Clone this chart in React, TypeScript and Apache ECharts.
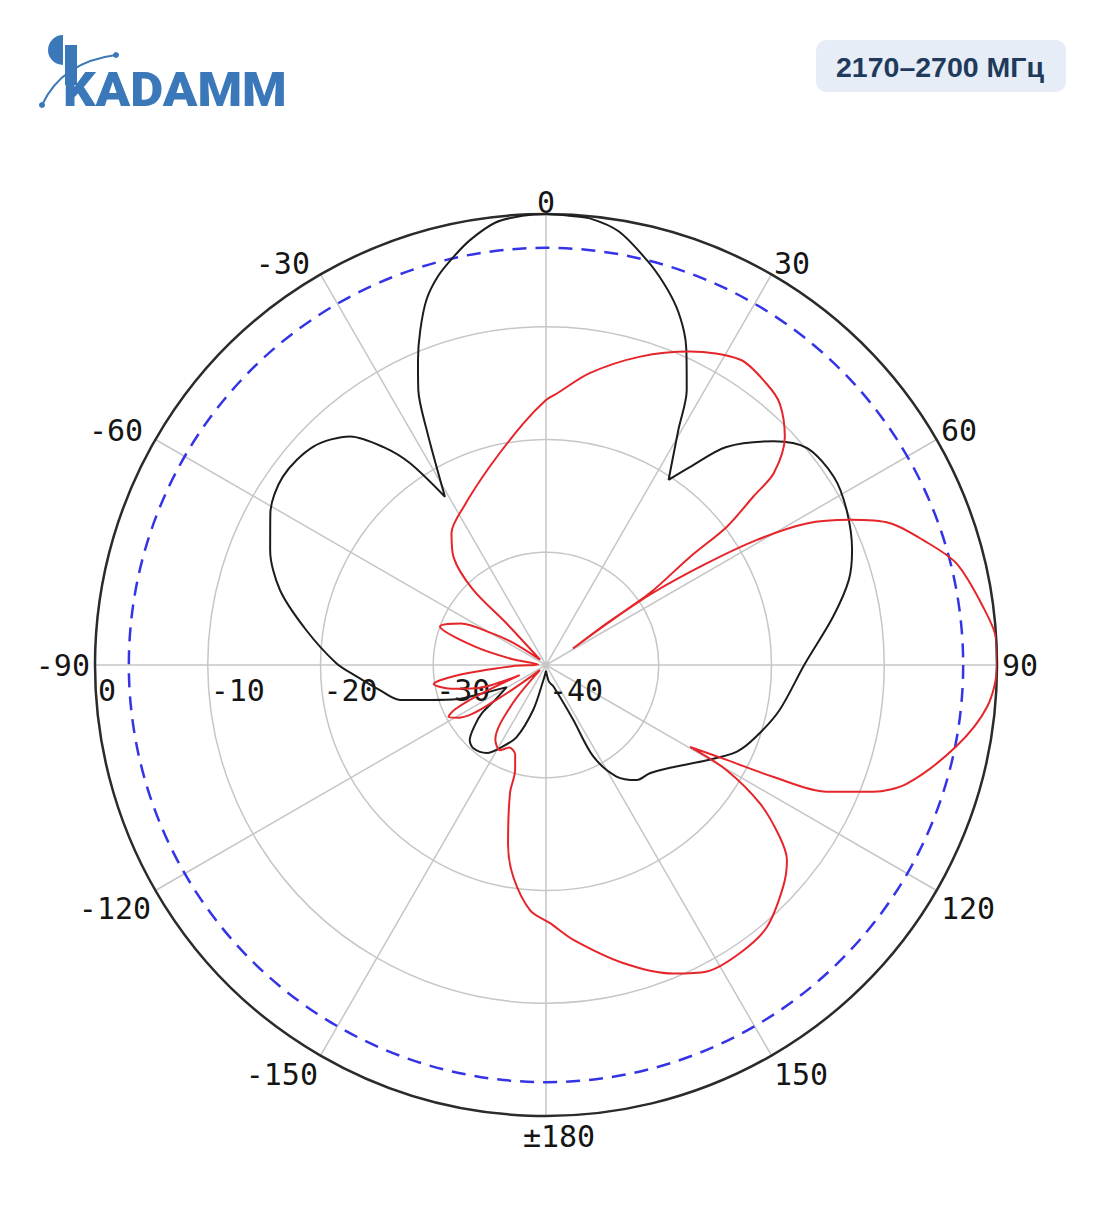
import React, { useEffect, useRef } from 'react';
import * as echarts from 'echarts';

// ---- axes ----
const ANGLE_MIN = -90;
const ANGLE_MAX = 270;
const ANGLE_STEP = 30;
const DB_MIN = -40;
const DB_MAX = 0;
const DB_STEP = 10;
const REF_LEVEL_DB = -3;

const TITLE_BADGE = '2170–2700 МГц';
const LOGO_TEXT = 'KADAMM';

// ---- patterns: [angle (deg), level (dB)] in drawing order ----
const BLACK_PATTERN: [number, number][] = [
  [-180, -39.5], [-170, -38.6], [-164.2, -35.9], [-157.8, -33.1], [-151.1, -31.6],
  [-146.1, -30.6], [-138.9, -30.2], [-134.6, -30.5], [-130.2, -31.75], [-126.9, -32.9],
  [-124.5, -34.5], [-119.4, -36.0], [-113.7, -33.6], [-111.1, -31.6], [-106.8, -29.25],
  [-103.5, -26.7], [-98.6, -25.1], [-93.5, -23.2], [-89.5, -21.4], [-81.7, -18.5],
  [-74.3, -15.5], [-67.4, -13.5], [-61.2, -12.1], [-54.4, -11.3], [-46.8, -11.7],
  [-40.6, -13.3], [-36.7, -15.9], [-34, -18.4], [-31, -22.6], [-26.9, -16.6],
  [-24.9, -13.1], [-22.8, -10.7], [-20.6, -8.3], [-18.1, -5.9], [-15.5, -4.2],
  [-12.8, -2.9], [-10.1, -1.7], [-6.5, -0.5], [-3, -0.1], [0, 0],
  [3, -0.1], [5.6, -0.2], [9.5, -1.0], [14, -3.0], [17.2, -4.6],
  [20, -6.2], [22.5, -8.0], [24, -9.4], [27.1, -12.6], [29.4, -16.1],
  [33.5, -20.3], [36, -18.3], [39.6, -14.9], [45.5, -11.7], [50.3, -9.9],
  [56.8, -9.5], [62.7, -10.0], [69.4, -11.0], [74.3, -12.1], [80.5, -14.2],
  [90, -17.1], [100.9, -18.9], [108.8, -20.3], [114.4, -21.4], [120.6, -23.4],
  [128.6, -25.5], [136.2, -26.7], [141.7, -27.0], [147.7, -28.3], [152.7, -30.9],
  [153.6, -34.6], [161, -38.0], [170, -38.5], [180, -39.5],
];

const RED_PATTERN: [number, number][] = [
  [58.5, -37.2], [55.5, -33.5], [55.3, -28.8], [53.1, -24.0], [52.6, -19.8],
  [50.9, -16.3], [49.9, -13.6], [46.3, -10.7], [41.8, -8.9], [38.1, -8.3],
  [32.5, -7.9], [24.7, -9.4], [17, -11.4], [8.6, -13.8], [2.3, -15.9],
  [0, -16.5], [-5.4, -18.5], [-15.8, -21.7], [-27.6, -24.2], [-35.6, -25.6],
  [-40.6, -27.4], [-44.1, -30.7], [-43.5, -34.9], [-48, -39.3],
  [-56, -36.5], [-59.7, -34.4], [-64, -31.6], [-70, -30.0], [-75.5, -33.5],
  [-80, -36.9], [-86, -39.3],
  [-92, -37.0], [-96.5, -32.2], [-99.6, -29.9], [-104, -31.3], [-108.2, -33.4],
  [-111, -37.5],
  [-114, -33.5], [-116, -31.0], [-118, -30.2], [-121, -30.9], [-125, -34.5],
  [-130, -39.3],
  [-139, -35.5], [-145.8, -32.0], [-151.6, -31.4], [-156, -32.0], [-161, -31.6],
  [-163.6, -30.3], [-164.3, -28.2], [-168, -23.8], [-171.2, -21.0], [-176.3, -18.2],
  [179.1, -17.1], [174.3, -15.5], [165.5, -12.7], [157.6, -10.4], [152.3, -9.3],
  [146.1, -9.2], [139.9, -9.6], [133.1, -11.2], [129, -12.5], [126.3, -14.3],
  [122.9, -17.4], [120.2, -21.5], [119.6, -25.3], [117.7, -21.9], [116.2, -17.5],
  [114.3, -12.7], [111.2, -8.9], [108.2, -6.3], [101.2, -2.9], [95.4, -0.7],
  [90.2, 0], [86.8, 0], [82.4, -0.9], [76.1, -2.5], [71.7, -4.75],
  [67.6, -7.0], [64.5, -10.1], [61.5, -13.7], [59.3, -18.3], [57.7, -23.1],
  [56.0, -28.5], [55.8, -33.0], [58.5, -37.2],
];

const toAxisAngle = (a: number) => (a < ANGLE_MIN ? a + 360 : a);
const toSeriesData = (pattern: [number, number][]) =>
  pattern.map(([a, db]) => [db, toAxisAngle(a)]);

const angleText = (v: number) => {
  if (v === 180) return '±180';
  if (v > 180) return String(v - 360);
  return String(v);
};

const angleLabel = (v: number) => {
  const t = angleText(v);
  if (v === -60 || v === -30) return `{tl|${t}}`;
  if (v === 0 || v === 30 || v === 60) return `{t|${t}}`;
  if (v === 180) return `{b|${t}}`;
  return t;
};

const LABEL_FONT = 'DejaVu Sans Mono';
const LABEL_COLOR = '#151515';
const BLUE = '#3b78b9';

export default function App() {
  const ref = useRef<HTMLDivElement>(null);

  useEffect(() => {
    const el = ref.current;
    if (!el) return;
    const chart = echarts.init(el, null, { renderer: 'svg' });

    const richBase = { fontFamily: LABEL_FONT, fontSize: 30, color: LABEL_COLOR };

    const option: any = {
      animation: false,
      backgroundColor: '#ffffff',
      polar: { center: [546, 665], radius: 451 },
      angleAxis: {
        type: 'value',
        min: ANGLE_MIN,
        max: ANGLE_MAX,
        interval: ANGLE_STEP,
        startAngle: 180,
        clockwise: true,
        axisLine: { show: true, lineStyle: { color: '#2b2b2b', width: 2.5 } },
        axisTick: { show: false },
        axisLabel: {
          show: true,
          margin: 5,
          formatter: angleLabel,
          fontFamily: LABEL_FONT,
          fontSize: 30,
          color: LABEL_COLOR,
          rich: {
            t: { ...richBase, lineHeight: 14 },
            tl: { ...richBase, lineHeight: 14, padding: [0, 8, 0, 0] },
            b: { ...richBase, padding: [0, 0, 0, 26] },
          },
        },
        splitLine: { show: true, lineStyle: { color: '#c6c6c6', width: 1.5 } },
      },
      radiusAxis: {
        type: 'value',
        min: DB_MIN,
        max: DB_MAX,
        interval: DB_STEP,
        axisLine: { show: false },
        axisTick: { show: false },
        axisLabel: {
          show: true,
          showMinLabel: true,
          showMaxLabel: true,
          margin: 10,
          align: 'left',
          verticalAlign: 'top',
          padding: [0, 0, 0, 3],
          fontFamily: LABEL_FONT,
          fontSize: 30,
          color: LABEL_COLOR,
          formatter: (v: number) => String(v),
        },
        splitLine: { show: true, lineStyle: { color: '#c6c6c6', width: 1.5 } },
      },
      series: [
        {
          type: 'custom',
          coordinateSystem: 'polar',
          silent: true,
          z: 1,
          data: [[REF_LEVEL_DB, 0]],
          renderItem: (_params: any, api: any) => {
            const c = api.coord([DB_MIN, 0]);
            const p = api.coord([api.value(0), 0]);
            const r = Math.hypot(p[0] - c[0], p[1] - c[1]);
            return {
              type: 'circle',
              shape: { cx: c[0], cy: c[1], r },
              style: { fill: 'none', stroke: '#3434e6', lineWidth: 2.5, lineDash: [14, 9] },
            };
          },
        },
        {
          name: 'black',
          type: 'line',
          coordinateSystem: 'polar',
          data: toSeriesData(BLACK_PATTERN),
          showSymbol: false,
          smooth: 0.3,
          lineStyle: { color: '#1c1c1c', width: 2 },
          z: 3,
        },
        {
          name: 'red',
          type: 'line',
          coordinateSystem: 'polar',
          data: toSeriesData(RED_PATTERN),
          showSymbol: false,
          smooth: 0.3,
          lineStyle: { color: '#e5252a', width: 2 },
          z: 4,
        },
      ],
      graphic: [
        // logo
        {
          type: 'sector',
          shape: { cx: 63, cy: 50, r0: 0, r: 15, startAngle: Math.PI / 2, endAngle: (3 * Math.PI) / 2 },
          style: { fill: BLUE },
        },
        { type: 'rect', shape: { x: 65, y: 45, width: 12, height: 40 }, style: { fill: BLUE } },
        {
          type: 'text',
          x: 63,
          y: 89,
          scaleX: 1.04,
          style: {
            text: LOGO_TEXT,
            fill: BLUE,
            font: '900 49px Roboto, "Liberation Sans", Arial, sans-serif',
            align: 'left',
            verticalAlign: 'middle',
          },
        },
        {
          type: 'bezierCurve',
          shape: { x1: 42, y1: 105, x2: 116, y2: 55, cpx1: 62, cpy1: 62 },
          style: { stroke: BLUE, lineWidth: 2, fill: 'none' },
        },
        { type: 'circle', shape: { cx: 42, cy: 105, r: 3 }, style: { fill: BLUE } },
        { type: 'circle', shape: { cx: 116, cy: 55, r: 3 }, style: { fill: BLUE } },
        // badge
        {
          type: 'rect',
          shape: { x: 816, y: 40, width: 250, height: 52, r: 10 },
          style: { fill: '#e6edf6' },
        },
        {
          type: 'text',
          x: 940,
          y: 67,
          style: {
            text: TITLE_BADGE,
            fill: '#1f3a5c',
            font: 'bold 28.5px "Liberation Sans", Arial, sans-serif',
            align: 'center',
            verticalAlign: 'middle',
          },
        },
      ],
    };

    chart.setOption(option);
    return () => chart.dispose();
  }, []);

  return (
    <div
      ref={ref}
      style={{ position: 'absolute', left: 0, top: 0, width: 1104, height: 1211, background: '#fff' }}
    />
  );
}
